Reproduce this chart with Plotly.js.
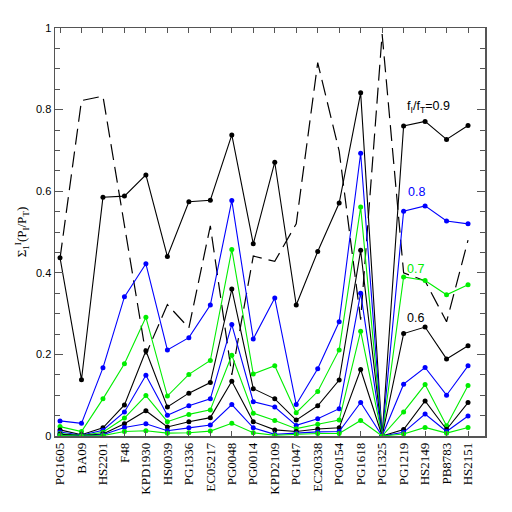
<!DOCTYPE html>
<html>
<head>
<meta charset="utf-8">
<script src="https://cdn.plot.ly/plotly-3.0.1.min.js"></script>
<style>html,body{margin:0;padding:0;background:#fff;}#chart{width:512px;height:512px;}</style>
</head>
<body>
<div id="chart"></div>
<script>
var stars = ["PG1605","BA09","HS2201","F48","KPD1930","HS0039","PG1336","EC05217","PG0048","PG0014","KPD2109","PG1047","EC20338","PG0154","PG1618","PG1325","PG1219","HS2149","PB8783","HS2151"];

var dashedRef = [0.435,0.822,0.833,0.520,0.200,0.322,0.265,0.515,0.150,0.441,0.428,0.520,0.915,0.698,0.285,0.985,0.400,0.380,0.280,0.480];

var f09 = [0.437,0.138,0.585,0.588,0.640,0.440,0.574,0.578,0.738,0.471,0.671,0.321,0.452,0.571,0.841,0.0,0.760,0.771,0.727,0.761];
var f08 = [0.037,0.031,0.167,0.341,0.422,0.211,0.241,0.321,0.577,0.238,0.338,0.077,0.165,0.280,0.693,0.0,0.551,0.564,0.527,0.520];
var f07 = [0.023,0.011,0.091,0.177,0.291,0.098,0.151,0.185,0.457,0.152,0.172,0.057,0.109,0.211,0.561,0.0,0.390,0.381,0.346,0.371];
var f06 = [0.015,0.003,0.020,0.076,0.209,0.071,0.105,0.131,0.360,0.116,0.091,0.039,0.074,0.137,0.455,0.0,0.251,0.267,0.189,0.221];
var f05 = [0.010,0.002,0.014,0.059,0.149,0.051,0.074,0.091,0.273,0.084,0.071,0.026,0.042,0.067,0.350,0.0,0.127,0.168,0.100,0.172];
var f04 = [0.006,0.001,0.009,0.044,0.099,0.035,0.053,0.064,0.198,0.056,0.038,0.018,0.029,0.039,0.257,0.0,0.059,0.126,0.025,0.124];
var f03 = [0.004,0.001,0.005,0.030,0.062,0.022,0.035,0.045,0.134,0.035,0.015,0.011,0.017,0.020,0.163,0.0,0.016,0.086,0.016,0.082];
var f02 = [0.002,0.000,0.003,0.021,0.030,0.013,0.020,0.027,0.077,0.020,0.004,0.007,0.010,0.011,0.082,0.0,0.009,0.054,0.011,0.049];
var f01 = [0.001,0.000,0.001,0.011,0.013,0.007,0.008,0.012,0.031,0.008,0.002,0.004,0.006,0.006,0.038,0.0,0.005,0.021,0.007,0.021];

var seriesNames = ["0.9","0.8","0.7","0.6","0.5","0.4","0.3","0.2","0.1"];
var seriesVals = [f09,f08,f07,f06,f05,f04,f03,f02,f01];
var palette = ["#000000","#0000ff","#00ee00"];

var traces = [{
  x: stars, y: dashedRef, type: "scatter", mode: "lines",
  line: {color: "#000000", width: 1.2, dash: "16px,7px"},
  hoverinfo: "skip", showlegend: false
}];
for (var i = 0; i < seriesVals.length; i++) {
  var c = palette[i % 3];
  traces.push({
    x: stars, y: seriesVals[i], type: "scatter", mode: "lines+markers",
    name: seriesNames[i],
    line: {color: c, width: 1.1},
    marker: {color: c, size: 5, symbol: "circle"},
    showlegend: false
  });
}

var axisColor = "#555555";
var layout = {
  width: 512, height: 512,
  margin: {l: 55, r: 27, t: 28, b: 76, pad: 0},
  paper_bgcolor: "#ffffff", plot_bgcolor: "#ffffff",
  showlegend: false,
  xaxis: {
    type: "category",
    range: [-0.233, 19.79],
    tickangle: -90,
    ticks: "inside", ticklen: 5, tickcolor: axisColor, tickwidth: 1,
    showline: true, linecolor: axisColor, linewidth: 1.5, mirror: "ticks",
    showgrid: false, zeroline: false,
    tickfont: {family: "Liberation Serif", size: 13, color: "#000"}
  },
  yaxis: {
    range: [0, 1],
    tickvals: [0, 0.2, 0.4, 0.6, 0.8, 1],
    ticktext: ["0", "0.2", "0.4", "0.6", "0.8", "1"],
    ticks: "inside", ticklen: 8, tickcolor: axisColor, tickwidth: 1,
    minor: {dtick: 0.05, tick0: 0, ticks: "inside", ticklen: 5, tickcolor: axisColor, tickwidth: 1, showgrid: false},
    showline: true, linecolor: axisColor, linewidth: 1.5, mirror: "ticks",
    showgrid: false, zeroline: false,
    tickfont: {family: "Liberation Sans", size: 11, color: "#000"},
    title: {text: "Σ<sub>1</sub><sup>I</sup>(P<sub>I</sub>/P<sub>T</sub>)", font: {family: "Liberation Serif", size: 13, color: "#000"}, standoff: 6}
  },
  annotations: [
    {x: 17.16, y: 0.806, xref: "x", yref: "y", text: "f<sub>I</sub>/f<sub>T</sub>=0.9", showarrow: false, font: {family: "Liberation Sans", size: 12.5, color: "#000"}},
    {x: 16.58, y: 0.598, xref: "x", yref: "y", text: "0.8", showarrow: false, font: {family: "Liberation Sans", size: 12.5, color: "#0000ff"}},
    {x: 16.55, y: 0.409, xref: "x", yref: "y", text: "0.7", showarrow: false, font: {family: "Liberation Sans", size: 12.5, color: "#00ee00"}},
    {x: 16.55, y: 0.289, xref: "x", yref: "y", text: "0.6", showarrow: false, font: {family: "Liberation Sans", size: 12.5, color: "#000"}}
  ]
};

Plotly.newPlot("chart", traces, layout, {staticPlot: true, displayModeBar: false});
</script>
</body>
</html>
